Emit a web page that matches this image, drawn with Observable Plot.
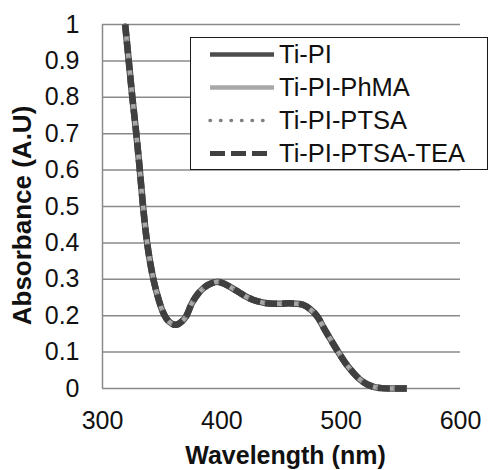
<!DOCTYPE html>
<html><head><meta charset="utf-8">
<script src="https://cdn.jsdelivr.net/npm/d3@7"></script>
<script src="https://cdn.jsdelivr.net/npm/@observablehq/plot@0.6"></script>
<style>
body{margin:0;background:#fff;}
#wrap{position:relative;width:488px;height:470px;font-family:"Liberation Sans",Arial,sans-serif;}
#legend{position:absolute;left:190px;top:37px;width:298px;height:133px;border:1.5px solid #1a1a1a;background:#fff;box-sizing:border-box;}
.row{height:33px;display:flex;align-items:center;font-size:25.5px;color:#111;white-space:nowrap;}
.row svg{flex:none;}
</style></head><body><div id="wrap"></div>
<script>
// Wavelength (nm)
const wavelength = [319,322,325,328,331,334,337,340,343,347,350,354,358,362,366,370,375,380,385,390,396,402,408,414,420,426,432,438,444,450,456,462,468,474,480,486,492,498,504,510,516,522,528,534,545,555];
// Absorbance (A.U) per sample (the four curves overlap almost exactly)
const absTiPI =          [1.00,0.90,0.80,0.71,0.61,0.50,0.41,0.345,0.295,0.245,0.215,0.19,0.178,0.175,0.183,0.198,0.235,0.26,0.277,0.287,0.293,0.288,0.277,0.265,0.253,0.244,0.238,0.234,0.233,0.233,0.234,0.233,0.230,0.218,0.198,0.163,0.13,0.098,0.068,0.044,0.024,0.011,0.004,0.001,0,0];
const absTiPIPhMA =      [1.00,0.90,0.80,0.71,0.61,0.50,0.41,0.345,0.295,0.245,0.215,0.19,0.178,0.175,0.183,0.198,0.235,0.26,0.277,0.287,0.293,0.288,0.277,0.265,0.253,0.244,0.238,0.234,0.233,0.233,0.234,0.233,0.230,0.218,0.198,0.163,0.13,0.098,0.068,0.044,0.024,0.011,0.004,0.001,0,0];
const absTiPIPTSA =      [1.00,0.90,0.80,0.71,0.61,0.50,0.41,0.345,0.295,0.245,0.215,0.19,0.178,0.175,0.183,0.198,0.235,0.26,0.277,0.287,0.293,0.288,0.277,0.265,0.253,0.244,0.238,0.234,0.233,0.233,0.234,0.233,0.230,0.218,0.198,0.163,0.13,0.098,0.068,0.044,0.024,0.011,0.004,0.001,0,0];
const absTiPIPTSATEA =   [1.00,0.90,0.80,0.71,0.61,0.50,0.41,0.345,0.295,0.245,0.215,0.19,0.178,0.175,0.183,0.198,0.235,0.26,0.277,0.287,0.293,0.288,0.277,0.265,0.253,0.244,0.238,0.234,0.233,0.233,0.234,0.233,0.230,0.218,0.198,0.163,0.13,0.098,0.068,0.044,0.024,0.011,0.004,0.001,0,0];

const seriesNames = ["Ti-PI","Ti-PI-PhMA","Ti-PI-PTSA","Ti-PI-PTSA-TEA"];
const seriesValues = [absTiPI, absTiPIPhMA, absTiPIPTSA, absTiPIPTSATEA];

const xTicks = [300,400,500,600];
const yTicks = [0,0.1,0.2,0.3,0.4,0.5,0.6,0.7,0.8,0.9,1];
const yTickLabels = ["0","0.1","0.2","0.3","0.4","0.5","0.6","0.7","0.8","0.9","1"];
const xTitle = "Wavelength (nm)";
const yTitle = "Absorbance (A.U)";

const styles = [
  {stroke:"#4d4d4d", width:6.5, dash:null,   cap:"butt",  lw:4.5, ldash:null,     x2:83},
  {stroke:"#a8a8a8", width:4.5, dash:null,   cap:"butt",  lw:4.5, ldash:null,     x2:83},
  {stroke:"#808080", width:3,   dash:"0.5,8",cap:"round", lw:3.5, ldash:"0.5,10", x2:76},
  {stroke:"#404040", width:6.5, dash:"12,5", cap:"butt",  lw:5,   ldash:"15,6",   x2:76}
];

const rows = seriesNames.flatMap((name, s) =>
  wavelength.map((w, i) => ({w, a: seriesValues[s][i], name})));

const chart = Plot.plot({
  width: 488, height: 470,
  marginLeft: 102, marginRight: 28, marginTop: 24, marginBottom: 82,
  style: {fontFamily: "Liberation Sans, Arial, sans-serif", color: "#111", background: "#fff"},
  x: {domain: [300, 600]},
  y: {domain: [0, 1]},
  marks: [
    Plot.ruleY(yTicks, {stroke: "#8a8a8a", strokeWidth: 1.5}),
    Plot.ruleX([300], {stroke: "#8a8a8a", strokeWidth: 1.5}),
    Plot.axisY({ticks: yTicks, tickSize: 0, tickPadding: 23, fontSize: 25, label: null,
      tickFormat: d => yTickLabels[yTicks.indexOf(d)]}),
    Plot.axisX({ticks: xTicks, tickSize: 0, tickPadding: 23, fontSize: 25, label: null}),
    ...seriesNames.map((name, s) => Plot.line(rows.filter(r => r.name === name), {
      x: "w", y: "a", stroke: styles[s].stroke, strokeWidth: styles[s].width,
      strokeDasharray: styles[s].dash, strokeLinecap: styles[s].cap, curve: "catmull-rom"
    })),
    Plot.text([xTitle], {text: d => d, frameAnchor: "bottom", lineAnchor: "middle", textAnchor: "middle",
      dx: 4, dy: 67, fontSize: 25, fontWeight: "bold", fill: "#111"}),
    Plot.text([yTitle], {text: d => d, frameAnchor: "left", lineAnchor: "middle", textAnchor: "middle",
      rotate: -90, dx: -80, dy: 9, fontSize: 26, fontWeight: "bold", fill: "#111"})
  ]
});

const wrap = document.getElementById("wrap");
wrap.appendChild(chart);

const legend = document.createElement("div");
legend.id = "legend";
seriesNames.forEach((name, s) => {
  const st = styles[s];
  const row = document.createElement("div");
  row.className = "row";
  const dash = st.ldash ? ` stroke-dasharray="${st.ldash}"` : "";
  row.innerHTML = `<svg width="88" height="33"><line x1="19" y1="16.5" x2="${st.x2}" y2="16.5" stroke="${st.stroke}" stroke-width="${st.lw}" stroke-linecap="${st.cap}"${dash}/></svg><span>${name}</span>`;
  legend.appendChild(row);
});
wrap.appendChild(legend);
</script>
</body></html>
